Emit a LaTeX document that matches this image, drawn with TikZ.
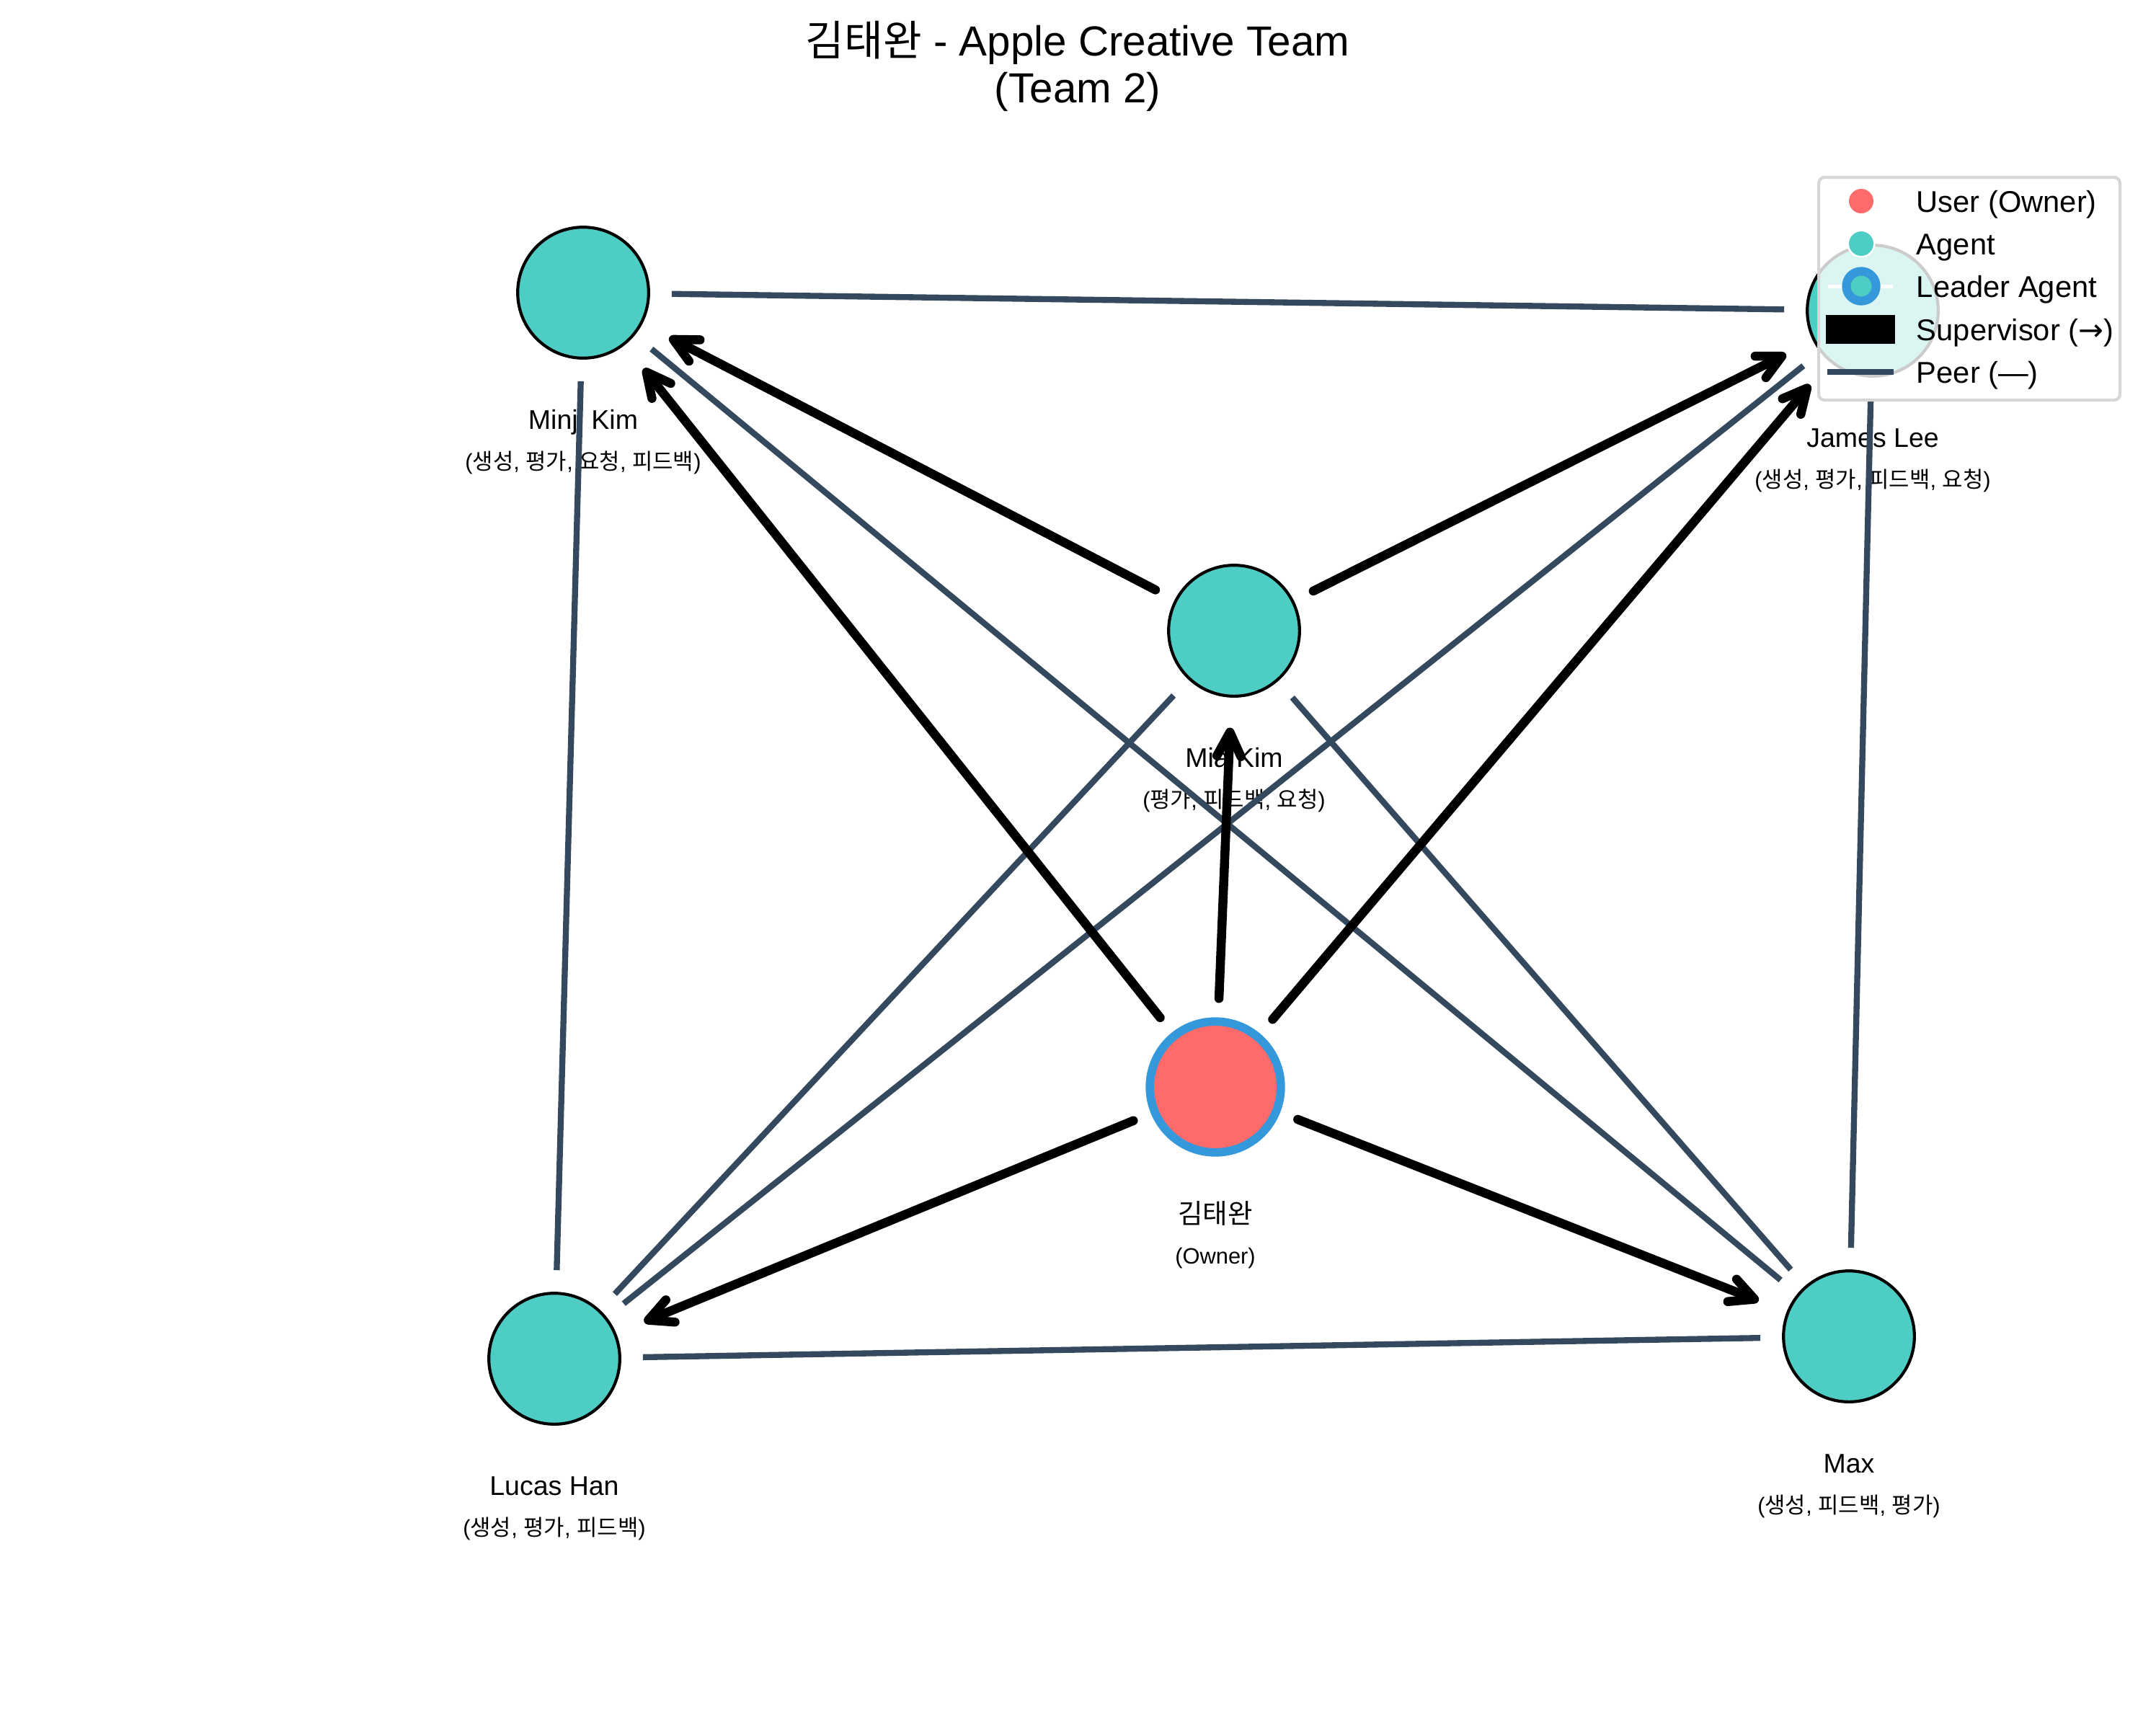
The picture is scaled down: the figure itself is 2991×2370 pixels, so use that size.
\documentclass[tikz,border=0pt]{standalone}
\usepackage{fontspec}
\setmainfont{Liberation Sans}
\newfontfamily\krfont{Noto Sans CJK KR}
\newfontfamily\symfont{DejaVu Sans}
\newcommand{\ko}[1]{{\krfont #1}}
\usetikzlibrary{arrows.meta, positioning}

\definecolor{agentteal}{HTML}{4ECDC4}
\definecolor{ownerred}{HTML}{FF6B6B}
\definecolor{leaderblue}{HTML}{3498DB}
\definecolor{peerslate}{HTML}{34495E}
\definecolor{legendgray}{HTML}{D6D6D6}

\begin{document}
\begin{tikzpicture}[x=0.24pt, y=-0.24pt,
    agent/.style={circle, draw=black, line width=1pt, fill=agentteal, minimum size=43.6pt, inner sep=0pt, outer sep=0pt},
    owner/.style={circle, draw=leaderblue, line width=2.8pt, fill=ownerred, minimum size=43.6pt, inner sep=0pt, outer sep=0pt},
    namelbl/.style={font=\fontsize{9}{10}\selectfont, inner sep=0pt, text height=6.5pt, text depth=2pt, below=17pt of #1},
    rolelbl/.style={font=\fontsize{7.4}{8}\selectfont, inner sep=0pt, text height=5.6pt, text depth=1.5pt, below=5.5pt of #1},
    supv/.style={line width=3pt, line cap=round, line join=round, -{Straight Barb[length=8pt, width=8pt, line cap=round, line join=round]}, shorten <=7.7pt, shorten >=10.5pt},
    peer/.style={draw=peerslate, line width=2pt, shorten <=7.7pt, shorten >=7.7pt},
    legmark/.style={circle, draw=white, line width=0.6pt, minimum size=8.8pt, inner sep=0pt},
    legtext/.style={anchor=base west, font=\fontsize{10}{12}\selectfont, inner sep=0pt}]
    \useasboundingbox (0,0) rectangle (2991,2370);

    % title
    \node[align=center, font=\fontsize{14}{15.5}\selectfont] (title) at (1495,92) {\ko{김태완} - Apple Creative Team\\(Team 2)};

    % members
    \node[agent] (minji) at (809,406) {};
    \node[agent] (james) at (2598,431) {};
    \node[agent] (mia) at (1712,875) {};
    \node[owner] (owner) at (1686,1508) {};
    \node[agent] (lucas) at (769,1885) {};
    \node[agent] (max) at (2565,1854) {};

    % labels
    \node[namelbl=minji] (minji-name) {Minji Kim};
    \node[rolelbl=minji-name] (minji-role) {(\ko{생성}, \ko{평가}, \ko{요청}, \ko{피드백})};
    \node[namelbl=james] (james-name) {James Lee};
    \node[rolelbl=james-name] (james-role) {(\ko{생성}, \ko{평가}, \ko{피드백}, \ko{요청})};
    \node[namelbl=mia] (mia-name) {Mia Kim};
    \node[rolelbl=mia-name] (mia-role) {(\ko{평가}, \ko{피드백}, \ko{요청})};
    \node[namelbl=owner] (owner-name) {\ko{김태완}};
    \node[rolelbl=owner-name] (owner-role) {(Owner)};
    \node[namelbl=lucas] (lucas-name) {Lucas Han};
    \node[rolelbl=lucas-name] (lucas-role) {(\ko{생성}, \ko{평가}, \ko{피드백})};
    \node[namelbl=max] (max-name) {Max};
    \node[rolelbl=max-name] (max-role) {(\ko{생성}, \ko{피드백}, \ko{평가})};

    % peer links
    \draw[peer] (minji) -- (james);
    \draw[peer] (minji) -- (lucas);
    \draw[peer] (minji) -- (max);
    \draw[peer] (james) -- (lucas);
    \draw[peer] (james) -- (max);
    \draw[peer] (mia) -- (lucas);
    \draw[peer] (mia) -- (max);
    \draw[peer] (lucas) -- (max);

    % supervisor links
    \draw[supv] (owner) -- (minji);
    \draw[supv] (owner) -- (james);
    \draw[supv] (owner) -- (mia);
    \draw[supv] (owner) -- (lucas);
    \draw[supv] (owner) -- (max);
    \draw[supv] (mia) -- (minji);
    \draw[supv] (mia) -- (james);

    % legend
    \node[draw=legendgray, line width=1pt, fill=white, fill opacity=0.8, draw opacity=1, rounded corners=2pt, minimum width=100.3pt, minimum height=74.2pt, inner sep=0pt] (legend) at (2732,400.5) {};
    \node[legmark, fill=ownerred] (leg-user) at (2582,279) {};
    \node[legmark, fill=agentteal] (leg-agent) at (2582,338) {};
    \draw[white, line width=1.2pt] (2536,397) -- (2626,397);
    \node[circle, draw=leaderblue, line width=2.9pt, fill=agentteal, minimum size=9.9pt, inner sep=0pt] (leg-leader) at (2582,397) {};
    \fill[black] (2533,437) rectangle (2629,477);
    \draw[peerslate, line width=2pt] (2535,516) -- (2627,516);
    \node[legtext] (leg-user-txt) at (2658,294) {User (Owner)};
    \node[legtext] (leg-agent-txt) at (2658,353) {Agent};
    \node[legtext] (leg-leader-txt) at (2658,412) {Leader Agent};
    \node[legtext] (leg-supv-txt) at (2658,472) {Supervisor ({\symfont →})};
    \node[legtext] (leg-peer-txt) at (2658,531) {Peer (—)};
\end{tikzpicture}
\end{document}
